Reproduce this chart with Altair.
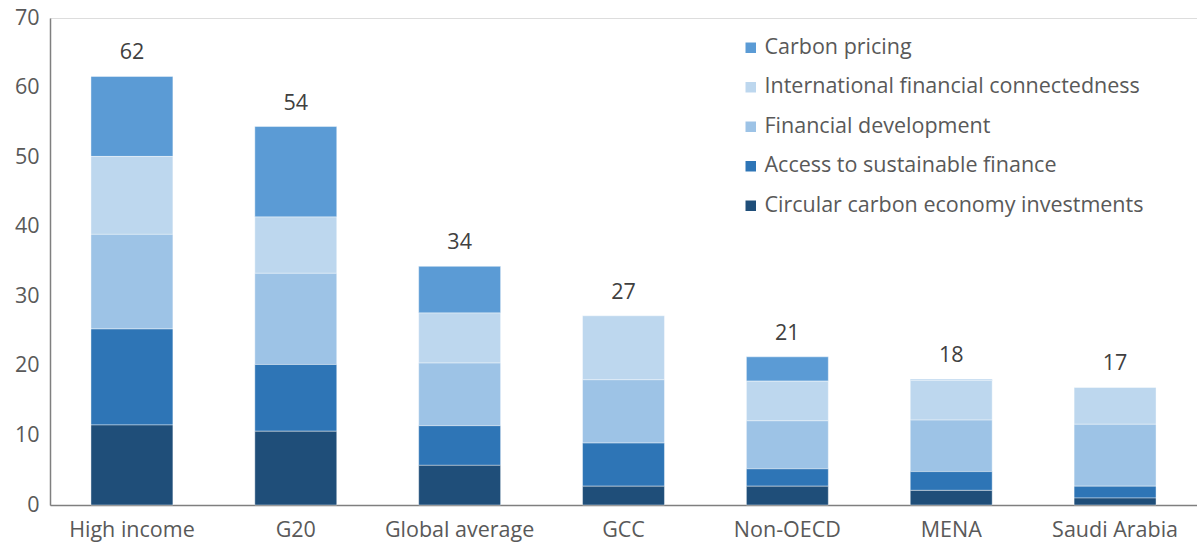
import altair as alt
import pandas as pd

categories = ["High income", "G20", "Global average", "GCC", "Non-OECD", "MENA", "Saudi Arabia"]
series = [
    "Carbon pricing",
    "International financial connectedness",
    "Financial development",
    "Access to sustainable finance",
    "Circular carbon economy investments",
]
colors = ["#5B9BD5", "#BDD7EE", "#9DC3E6", "#2E75B6", "#1F4E79"]

circular = [11.5, 10.6, 5.7, 2.7, 2.7, 2.1, 1.0]
access = [13.8, 9.6, 5.7, 6.2, 2.5, 2.7, 1.7]
findev = [13.6, 13.1, 9.0, 9.1, 6.9, 7.4, 8.9]
intl = [11.2, 8.1, 7.2, 9.2, 5.7, 5.7, 5.3]
carbon = [11.5, 13.0, 6.7, 0.0, 3.5, 0.15, 0.0]

values = {
    "Carbon pricing": carbon,
    "International financial connectedness": intl,
    "Financial development": findev,
    "Access to sustainable finance": access,
    "Circular carbon economy investments": circular,
}
order_idx = {s: i for i, s in enumerate(series)}

rows = []
for s in series:
    for c, v in zip(categories, values[s]):
        rows.append({"category": c, "series": s, "value": v, "stack_order": len(series) - order_idx[s]})
df = pd.DataFrame(rows)

FONT = "Open Sans"
GRAY = "#595959"
FS = 21.5

x_enc = alt.X(
    "category:N",
    sort=categories,
    title=None,
    scale=alt.Scale(paddingInner=0.5, paddingOuter=0.25),
    axis=alt.Axis(labelAngle=0, labelFontSize=FS, labelColor=GRAY, labelFont=FONT,
                  ticks=False, domainColor="#7f7f7f", domainWidth=1.5, labelPadding=14),
)

bars = alt.Chart(df).mark_bar(stroke="white", strokeWidth=0.6, strokeOpacity=0.7).encode(
    x=x_enc,
    y=alt.Y("sum(value):Q", title=None,
            scale=alt.Scale(domain=[0, 70], nice=False),
            axis=alt.Axis(values=list(range(0, 71, 10)), grid=False, ticks=False,
                          labelFontSize=FS, labelColor=GRAY, labelFont=FONT,
                          domainColor="#7f7f7f", domainWidth=1.5, labelPadding=11)),
    color=alt.Color("series:N", sort=series,
                    scale=alt.Scale(domain=series, range=colors),
                    legend=alt.Legend(title=None, orient="none", legendX=690, legendY=19,
                                      labelFontSize=FS, labelFont=FONT, labelColor=GRAY,
                                      symbolType="square", symbolSize=110, symbolStrokeWidth=0,
                                      rowPadding=16.5, labelOffset=3, labelLimit=600)),
    order=alt.Order("stack_order:Q", sort="ascending"),
)

labels = alt.Chart(df).transform_aggregate(
    total="sum(value)", groupby=["category"]
).mark_text(baseline="bottom", dy=-12, fontSize=FS, font=FONT, color="#404040").encode(
    x=alt.X("category:N", sort=categories),
    y=alt.Y("total:Q"),
    text=alt.Text("total:Q", format=".0f"),
)

chart = alt.layer(bars, labels).properties(
    width=1147, height=487,
    autosize=alt.AutoSizeParams(type="none"),
    padding={"left": 50, "top": 18, "right": 0, "bottom": 41},
).configure_view(stroke=None).configure(font=FONT)

chart.save("out.html", embed_options={"renderer": "svg", "actions": False})
